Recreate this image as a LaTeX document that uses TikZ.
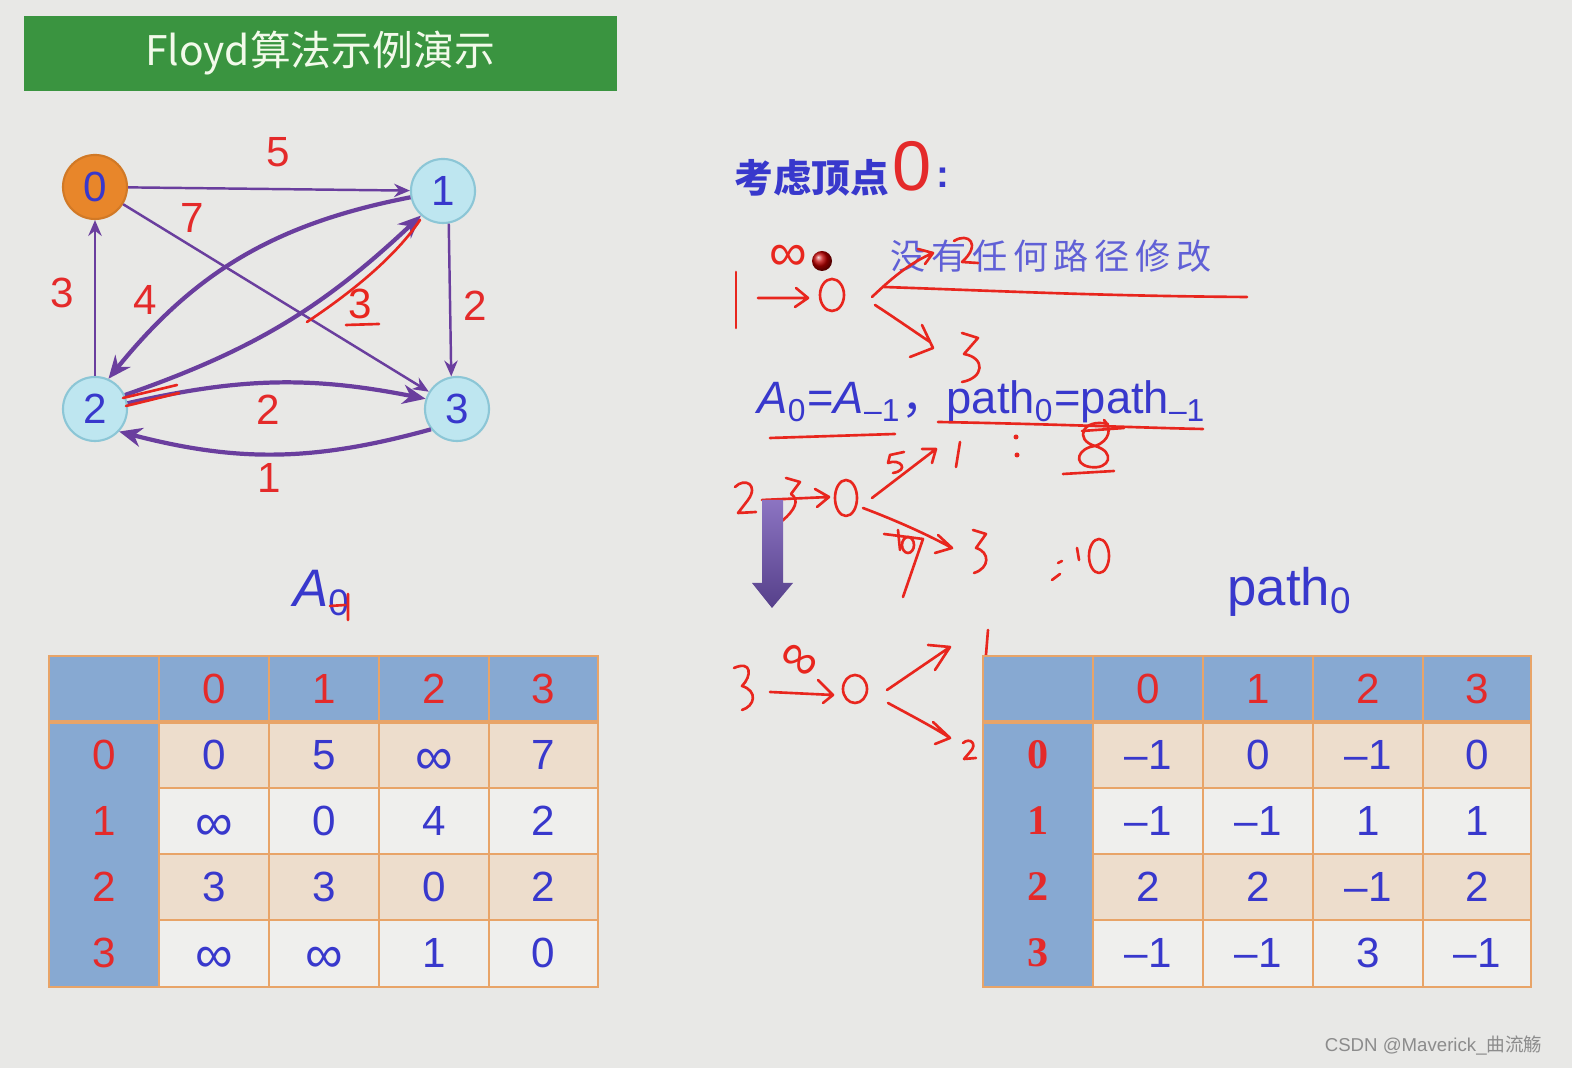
\documentclass[tikz,border=0pt]{standalone}
\usepackage{fontspec}
\setmainfont{Liberation Sans}
\newfontfamily\cjk{Noto Sans CJK SC}
\newfontfamily\cjkwide[LetterSpace=16]{Noto Sans CJK SC}
\newfontfamily\rowfont{Liberation Serif}
\usetikzlibrary{positioning,arrows.meta,calc}

\definecolor{pagebg}{HTML}{E8E8E6}
\definecolor{titlegreen}{HTML}{3A9440}
\definecolor{titletext}{HTML}{F2FAEA}
\definecolor{edgepurple}{HTML}{6A3E9E}
\definecolor{numred}{HTML}{E42A2A}
\definecolor{inkred}{HTML}{E8261E}
\definecolor{numblue}{HTML}{3838CC}
\definecolor{vcyan}{HTML}{BEE6F0}
\definecolor{vcyanline}{HTML}{8CC6D6}
\definecolor{vorange}{HTML}{E8862A}
\definecolor{hdrblue}{HTML}{87A9D2}
\definecolor{rowbeige}{HTML}{EDDDCC}
\definecolor{rowlight}{HTML}{EFEFED}
\definecolor{gridorange}{HTML}{E8A468}
\definecolor{arrowtop}{HTML}{8C74C2}
\definecolor{arrowbot}{HTML}{56408A}

\tikzset{
  vertex/.style={circle,minimum size=0.64cm,inner sep=0pt,fill=vcyan,draw=vcyanline,
    line width=0.6pt,text=numblue,font=\fontsize{12}{12}\selectfont},
  thinedge/.style={draw=edgepurple,line width=0.7pt,-{Stealth[length=4.5pt,width=3.8pt]}},
  thickedge/.style={draw=edgepurple,line width=1.2pt,-{Stealth[length=6.5pt,width=5.5pt]}},
  wlabel/.style={text=numred,font=\fontsize{12}{12}\selectfont},
  ink/.style={draw=inkred,line width=0.75pt,line cap=round,line join=round},
  inktext/.style={text=inkred,inner sep=0pt},
  cellnum/.style={text=numblue,font=\fontsize{12}{12}\selectfont},
  infcell/.style={text=numblue,font=\fontsize{15}{15}\selectfont,yshift=-0.07cm},
  headnum/.style={text=numred,font=\fontsize{12}{12}\selectfont},
  rowhead/.style={text=numred,font=\rowfont\bfseries\fontsize{12}{12}\selectfont},
  gridline/.style={draw=gridorange,line width=0.5pt},
}

\begin{document}
\begin{tikzpicture}[x=0.01cm,y=-0.01cm]
\fill[pagebg] (0,0) rectangle (1572,1068);
\useasboundingbox (0,0) rectangle (1572,1068);

\fill[titlegreen] (24,16) rectangle (617,91);
\node[text=titletext,font=\cjk\fontsize{11.6}{11.6}\selectfont] (title) at (320,53) {Floyd算法示例演示};

\node[vertex,fill=vorange,draw=vorange!90!black] (n0) at (95,187) {0};
\node[vertex] (n1) at (443,191) {1};
\node[vertex] (n2) at (95,409) {2};
\node[vertex] (n3) at (457,409) {3};

\draw[thinedge] (n0) -- (n1);
\draw[thinedge] (n0) -- (n3);
\draw[thinedge] (n2) -- (n0);
\draw[thinedge] (n1.-80) -- (n3.100);
\draw[thickedge] (n1.191) to[bend right=20] (n2.66);
\draw[thickedge] (n2.25) to[bend right=12] (n1.228);
\draw[thickedge] (n2.10) to[bend left=12] (n3.162);
\draw[thickedge] (n3.218) to[bend left=15] (n2.-43);

\node[wlabel] (w01) at (278,152) {5};
\node[wlabel] (w03) at (192,218) {7};
\node[wlabel] (w20) at (62,293) {3};
\node[wlabel] (w12) at (145,300) {4};
\node[wlabel] (w13) at (475,306) {2};
\node[wlabel] (w23) at (268,410) {2};
\node[wlabel] (w32) at (269,478) {1};

\draw[ink] (307,322) .. controls (340,300) and (392,262) .. (420,220);
\node[inktext,font=\fontsize{12}{12}\selectfont] (w21) at (360,304) {3};
\draw[ink] (346,325) -- (379,324);
\draw[ink] (123,398) -- (177,385);
\draw[ink] (126,406) -- (179,393);

% right side notes
\node[anchor=west,text=numblue,font=\cjk\bfseries\fontsize{11}{11}\selectfont] (kaolv) at (722,178) {考虑顶点};
\node[text=numred,inner sep=0pt,font=\fontsize{20}{20}\selectfont] (kzero) at (912,166) {0};
\node[text=numblue,inner sep=0pt,font=\bfseries\fontsize{11}{11}\selectfont] (kcolon) at (943,178) {:};
\node[anchor=west,inner sep=0pt,text=numblue!80,font=\cjkwide\fontsize{10}{10}\selectfont] (nochange) at (890,256) {没有任何路径修改};
\node[anchor=west,inner sep=0pt,text=numblue,font=\fontsize{12.9}{12.9}\selectfont] (eqline) at (757,402)
  {\textit{A}\textsubscript{0}=\textit{A}\textsubscript{–1}{\cjk ，}path\textsubscript{0}=path\textsubscript{–1}};

\draw[ink] (736,272) -- (736,328);
\draw[ink] (758,298) -- (808,298) (796,288) -- (808,298) -- (795,307);
\node[inktext,font=\fontsize{15}{15}\selectfont] (inf1) at (788,258) {∞};
\shade[ball color=red!75!black] (822,261) circle (0.1cm);
\draw[ink] (832,295) ellipse [x radius=0.12cm,y radius=0.16cm];
\draw[ink] (872,297) .. controls (895,275) and (912,262) .. (933,253) (918,249) -- (933,253) -- (925,264);
\draw[ink] (954,241) .. controls (968,232) and (982,244) .. (962,262) -- (978,263);
\draw[ink] (884,287) .. controls (1000,291) and (1100,296) .. (1247,297);
\draw[ink] (875,305) .. controls (895,318) and (915,332) .. (930,342) (922,325) -- (933,348) -- (910,357);
\draw[ink] (962,333) -- (978,338) -- (964,354) .. controls (986,358) and (984,378) .. (962,382);

\draw[ink] (770,438) -- (895,434);
\draw[ink] (938,422) .. controls (1050,424) and (1150,428) .. (1203,429);
\draw[ink] (960,442) -- (956,467);
\fill[inkred] (1016,437) circle (0.025cm) (1017,455) circle (0.025cm);
\draw[ink] (1108,424) .. controls (1082,418) and (1074,440) .. (1095,446) .. controls (1116,452) and (1110,470) .. (1090,467)
  .. controls (1072,464) and (1078,448) .. (1095,446) .. controls (1110,441) and (1112,428) .. (1104,420);
\draw[ink] (1082,431) -- (1124,428);
\draw[ink] (1063,474) -- (1114,471);

\draw[ink] (735,487) .. controls (745,477) and (759,485) .. (748,500) -- (738,513) -- (756,512);
\draw[ink] (762,500) -- (829,497) (815,489) -- (829,497) -- (817,507);
\draw[ink] (786,478) -- (800,482) -- (791,494) .. controls (800,500) and (795,510) .. (782,521);
\draw[ink] (846,498) ellipse [x radius=0.11cm,y radius=0.18cm];
\draw[ink] (872,498) -- (936,449) (922,449) -- (936,449) -- (932,463);
\draw[ink] (904,452) -- (890,455) -- (888,463) .. controls (900,458) and (910,470) .. (893,473);
\draw[ink] (863,508) .. controls (900,522) and (930,536) .. (952,548) (938,535) -- (952,548) -- (935,553);
\draw[ink] (884,534) -- (923,539) -- (903,597) (898,530) -- (900,550);
\draw[ink] (908,545) ellipse [x radius=0.06cm,y radius=0.08cm];
\draw[ink] (973,530) -- (986,534) -- (976,548) .. controls (990,552) and (990,568) .. (974,573);
\draw[ink] (1052,580) -- (1060,574) (1058,563) -- (1062,561) (1077,548) -- (1079,560);
\draw[ink] (1099,556) ellipse [x radius=0.1cm,y radius=0.17cm];

\shade[top color=arrowtop,bottom color=arrowbot] (762,500) -- (783,500) -- (783,583) -- (793,583)
  -- (772,608) -- (752,583) -- (762,583) -- cycle;

\draw[ink] (734,668) .. controls (752,660) and (752,676) .. (742,686) .. controls (758,691) and (755,706) .. (742,710);
\draw[ink] (770,692) -- (833,695) (818,680) -- (833,695) -- (823,703);
\node[inktext,rotate=-35,font=\fontsize{15}{15}\selectfont] (inf2) at (798,662) {∞};
\draw[ink] (855,689) ellipse [x radius=0.12cm,y radius=0.14cm];
\draw[ink] (887,690) -- (950,647) (928,645) -- (950,647) -- (935,670);
\draw[ink] (888,703) .. controls (910,715) and (935,728) .. (950,738) (933,722) -- (950,738) -- (935,744);
\draw[ink] (963,743) .. controls (970,737) and (978,744) .. (970,752) -- (964,759) -- (976,758);
\draw[ink] (988,630) -- (985,667);

% A table
\node[text=numblue,font=\fontsize{15}{15}\selectfont] (alabel) at (322,593) {\textit{A}\textsubscript{0}};
\draw[ink] (330,606) -- (345,605) (348,594) -- (348,620);
\fill[hdrblue] (49,656) rectangle (598,722);
\fill[hdrblue] (49,722) rectangle (159,987);
\fill[rowbeige] (159,722) rectangle (598,788);
\fill[rowlight] (159,788) rectangle (598,854);
\fill[rowbeige] (159,854) rectangle (598,920);
\fill[rowlight] (159,920) rectangle (598,987);
\draw[gridline] (159,656) -- (159,987) (269,656) -- (269,987) (379,656) -- (379,987) (489,656) -- (489,987);
\draw[gridline] (159,788) -- (598,788) (159,854) -- (598,854) (159,920) -- (598,920);
\draw[gridline,line width=1pt] (49,722) -- (598,722);
\draw[gridline] (49,656) rectangle (598,987);
\node[headnum] (ah0) at (214,689) {0};
\node[headnum] (ah1) at (324,689) {1};
\node[headnum] (ah2) at (434,689) {2};
\node[headnum] (ah3) at (543,689) {3};
\node[headnum] (ar0) at (104,755) {0};
\node[headnum] (ar1) at (104,821) {1};
\node[headnum] (ar2) at (104,887) {2};
\node[headnum] (ar3) at (104,953) {3};
\node[cellnum] (a00) at (214,755) {0};
\node[cellnum] (a01) at (324,755) {5};
\node[infcell] (a02) at (434,755) {∞};
\node[cellnum] (a03) at (543,755) {7};
\node[infcell] (a10) at (214,821) {∞};
\node[cellnum] (a11) at (324,821) {0};
\node[cellnum] (a12) at (434,821) {4};
\node[cellnum] (a13) at (543,821) {2};
\node[cellnum] (a20) at (214,887) {3};
\node[cellnum] (a21) at (324,887) {3};
\node[cellnum] (a22) at (434,887) {0};
\node[cellnum] (a23) at (543,887) {2};
\node[infcell] (a30) at (214,953) {∞};
\node[infcell] (a31) at (324,953) {∞};
\node[cellnum] (a32) at (434,953) {1};
\node[cellnum] (a33) at (543,953) {0};

% path table
\node[text=numblue,font=\fontsize{15}{15}\selectfont] (plabel) at (1290,592) {path\textsubscript{0}};
\fill[hdrblue] (983,656) rectangle (1531,722);
\fill[hdrblue] (983,722) rectangle (1093,987);
\fill[rowbeige] (1093,722) rectangle (1531,788);
\fill[rowlight] (1093,788) rectangle (1531,854);
\fill[rowbeige] (1093,854) rectangle (1531,920);
\fill[rowlight] (1093,920) rectangle (1531,987);
\draw[gridline] (1093,656) -- (1093,987) (1203,656) -- (1203,987) (1313,656) -- (1313,987) (1423,656) -- (1423,987);
\draw[gridline] (1093,788) -- (1531,788) (1093,854) -- (1531,854) (1093,920) -- (1531,920);
\draw[gridline,line width=1pt] (983,722) -- (1531,722);
\draw[gridline] (983,656) rectangle (1531,987);
\node[headnum] (ph0) at (1148,689) {0};
\node[headnum] (ph1) at (1258,689) {1};
\node[headnum] (ph2) at (1368,689) {2};
\node[headnum] (ph3) at (1477,689) {3};
\node[rowhead] (pr0) at (1038,755) {0};
\node[rowhead] (pr1) at (1038,821) {1};
\node[rowhead] (pr2) at (1038,887) {2};
\node[rowhead] (pr3) at (1038,953) {3};
\node[cellnum] (p00) at (1148,755) {–1};
\node[cellnum] (p01) at (1258,755) {0};
\node[cellnum] (p02) at (1368,755) {–1};
\node[cellnum] (p03) at (1477,755) {0};
\node[cellnum] (p10) at (1148,821) {–1};
\node[cellnum] (p11) at (1258,821) {–1};
\node[cellnum] (p12) at (1368,821) {1};
\node[cellnum] (p13) at (1477,821) {1};
\node[cellnum] (p20) at (1148,887) {2};
\node[cellnum] (p21) at (1258,887) {2};
\node[cellnum] (p22) at (1368,887) {–1};
\node[cellnum] (p23) at (1477,887) {2};
\node[cellnum] (p30) at (1148,953) {–1};
\node[cellnum] (p31) at (1258,953) {–1};
\node[cellnum] (p32) at (1368,953) {3};
\node[cellnum] (p33) at (1477,953) {–1};

\node[anchor=east,text=black!45,font=\fontsize{5.3}{5.3}\selectfont] (mark) at (1555,1046) {CSDN @Maverick\_{\cjk 曲流觞}};
\end{tikzpicture}
\end{document}
